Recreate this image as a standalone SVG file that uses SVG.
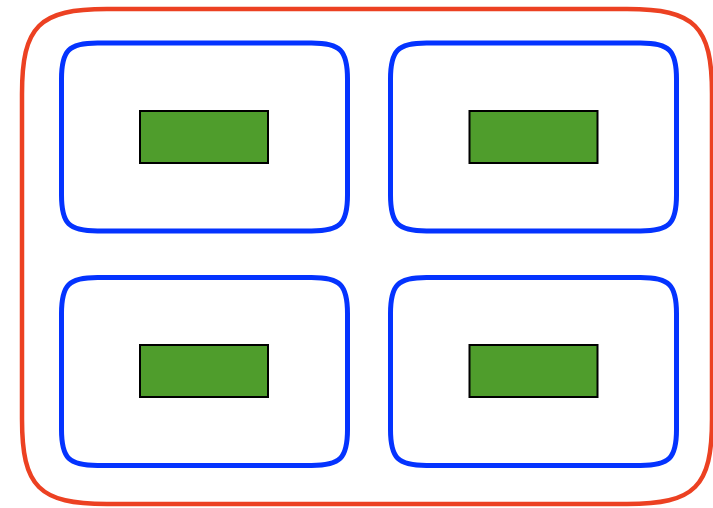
<svg xmlns="http://www.w3.org/2000/svg" width="713" height="508" viewBox="0 0 713 508">
<style>
.outer{fill:none;stroke:#ec4122;stroke-width:4.5}
.box{fill:none;stroke:#0433ff;stroke-width:5}
.leaf{fill:#4f9d2c;stroke:#000;stroke-width:2}
</style>
<defs>
<path id="boxShape" d="M 36 0 H 250 C 278.8 0 286 7.2 286 36 V 152 C 286 180.8 278.8 188 250 188 H 36 C 7.2 188 0 180.8 0 152 V 36 C 0 7.2 7.2 0 36 0 Z"/>
</defs>
<rect width="713" height="508" fill="#fff"/>
<g id="outer"><path class="outer" d="M 107 9 H 627 C 695 9 712 26 712 94 V 419 C 712 487 695 504 627 504 H 107 C 39 504 22 487 22 419 V 94 C 22 26 39 9 107 9 Z"/></g>
<g id="box1"><use href="#boxShape" class="box" x="61.5" y="43"/><rect class="leaf" x="140" y="111" width="128" height="52"/></g>
<g id="box2"><use href="#boxShape" class="box" x="390.5" y="43"/><rect class="leaf" x="469.5" y="111" width="128" height="52"/></g>
<g id="box3"><use href="#boxShape" class="box" x="61.5" y="277.5"/><rect class="leaf" x="140" y="345" width="128" height="52"/></g>
<g id="box4"><use href="#boxShape" class="box" x="390.5" y="277.5"/><rect class="leaf" x="469.5" y="345" width="128" height="52"/></g>
<g id="connectors"/>
</svg>
